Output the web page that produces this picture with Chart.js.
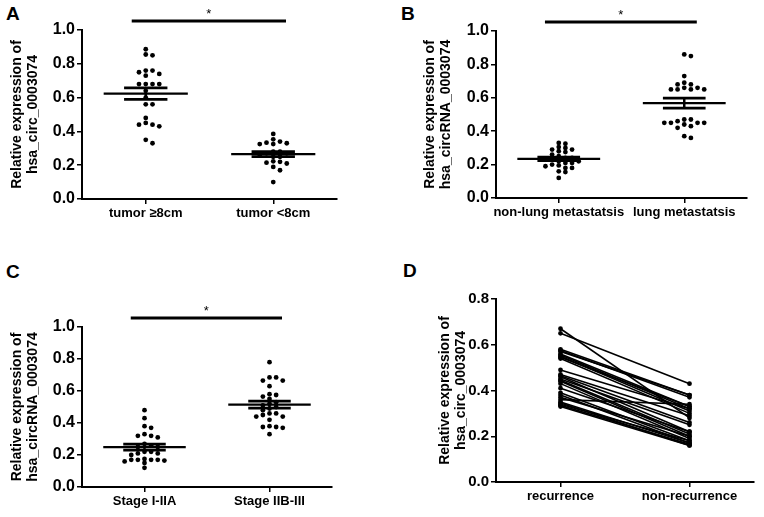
<!DOCTYPE html>
<html>
<head>
<meta charset="utf-8">
<script src="https://cdn.jsdelivr.net/npm/chart.js@4/dist/chart.umd.min.js"></script>
<style>
  body { margin: 0; background: #fff; }
  #fig { position: relative; width: 764px; height: 517px; overflow: hidden; }
  canvas { position: absolute; }
  .tag { position: absolute; font: bold 19px "Liberation Sans", Arial, sans-serif; color: #000; }
</style>
</head>
<body>
<div id="fig">
  <div class="tag" style="left:6px;top:3px">A</div>
  <div class="tag" style="left:401px;top:3px">B</div>
  <div class="tag" style="left:6px;top:261px">C</div>
  <div class="tag" style="left:403px;top:260px">D</div>
  <canvas id="chartA" width="382" height="258" style="left:0;top:0"></canvas>
  <canvas id="chartB" width="382" height="258" style="left:382px;top:0"></canvas>
  <canvas id="chartC" width="382" height="259" style="left:0;top:258px"></canvas>
  <canvas id="chartD" width="382" height="259" style="left:382px;top:258px"></canvas>
</div>
<script>
// panel A
const labelsA = ['tumor \u22658cm', 'tumor <8cm'];
const bigTumor = [0.886, 0.855, 0.85, 0.76, 0.75, 0.76, 0.74, 0.73, 0.68, 0.68, 0.68, 0.68, 0.64, 0.60, 0.56, 0.56, 0.48, 0.45, 0.44, 0.44, 0.43, 0.35, 0.33];
const smallTumor = [0.385, 0.353, 0.34, 0.333, 0.33, 0.325, 0.325, 0.28, 0.28, 0.27, 0.27, 0.26, 0.25, 0.25, 0.22, 0.215, 0.223, 0.21, 0.19, 0.17, 0.10];

// panel B
const labelsB = ['non-lung metastatsis', 'lung metastatsis'];
const nonLungMet = [0.33, 0.325, 0.305, 0.30, 0.29, 0.29, 0.28, 0.275, 0.26, 0.25, 0.24, 0.24, 0.23, 0.23, 0.22, 0.22, 0.21, 0.21, 0.20, 0.195, 0.19, 0.18, 0.18, 0.16, 0.155, 0.12];
const lungMet = [0.86, 0.85, 0.73, 0.69, 0.68, 0.68, 0.66, 0.66, 0.65, 0.65, 0.65, 0.65, 0.47, 0.47, 0.46, 0.45, 0.45, 0.45, 0.45, 0.44, 0.43, 0.42, 0.37, 0.36];

// panel C
const labelsC = ['Stage I-IIA', 'Stage IIB-III'];
const stageEarly = [0.48, 0.43, 0.38, 0.37, 0.33, 0.32, 0.32, 0.31, 0.27, 0.26, 0.25, 0.25, 0.22, 0.22, 0.21, 0.21, 0.20, 0.17, 0.175, 0.165, 0.17, 0.17, 0.17, 0.16, 0.15, 0.12];
const stageLate = [0.78, 0.685, 0.685, 0.665, 0.665, 0.63, 0.58, 0.575, 0.565, 0.55, 0.53, 0.52, 0.51, 0.50, 0.49, 0.48, 0.46, 0.46, 0.45, 0.44, 0.44, 0.42, 0.38, 0.375, 0.375, 0.37, 0.33];

// panel D (paired patients)
const labelsD = ['recurrence', 'non-recurrence'];
const recurrence    = [0.67, 0.65, 0.58, 0.575, 0.57, 0.56, 0.555, 0.55, 0.545, 0.54, 0.49, 0.47, 0.465, 0.46, 0.45, 0.445, 0.44, 0.43, 0.41, 0.39, 0.38, 0.37, 0.36, 0.35, 0.345, 0.34, 0.335, 0.33];
const nonRecurrence = [0.28, 0.43, 0.38, 0.37, 0.38, 0.33, 0.32, 0.31, 0.33, 0.30, 0.32, 0.29, 0.26, 0.22, 0.25, 0.21, 0.20, 0.19, 0.22, 0.18, 0.17, 0.20, 0.34, 0.17, 0.16, 0.18, 0.165, 0.16];

const yTitle1 = ['Relative expression of', 'hsa_circ_0003074'];
const yTitle2 = ['Relative expression of', 'hsa_circRNA_0003074'];

const FONT = '"Liberation Sans", Arial, sans-serif';

// simple dot-plot spreading: points with close values get pushed sideways
function swarm(values, center) {
  const step = 0.053, yTol = 0.024;
  const placed = [];
  return [...values].sort((a, b) => b - a).map(v => {
    for (let k = 0; k < 40; k++) {
      const off = k === 0 ? 0 : (k % 2 ? 1 : -1) * Math.ceil(k / 2) * step;
      const hit = placed.some(p => Math.abs(p.y - v) < yTol && Math.abs(p.off - off) < step * 0.9);
      if (!hit) { placed.push({ y: v, off }); return { x: center + off, y: v }; }
    }
  });
}

const statsPlugin = {
  id: 'stats',
  afterDatasetsDraw(chart, args, opts) {
    const { ctx, scales: { x, y }, chartArea } = chart;
    ctx.save();
    ctx.strokeStyle = '#000';
    ctx.fillStyle = '#000';
    (opts.groups || []).forEach((vals, i) => {
      const c = i + 1, n = vals.length;
      const mean = vals.reduce((a, b) => a + b, 0) / n;
      const sd = Math.sqrt(vals.reduce((a, b) => a + (b - mean) ** 2, 0) / (n - 1));
      const sem = sd / Math.sqrt(n);
      const line = (x0, y0, x1, y1, w) => {
        ctx.lineWidth = w; ctx.beginPath(); ctx.moveTo(x0, y0); ctx.lineTo(x1, y1); ctx.stroke();
      };
      const ym = y.getPixelForValue(mean);
      const yt = y.getPixelForValue(mean + sem);
      const yb = y.getPixelForValue(mean - sem);
      line(x.getPixelForValue(c - 0.33), ym, x.getPixelForValue(c + 0.33), ym, 2.2);
      line(x.getPixelForValue(c - 0.17), yt, x.getPixelForValue(c + 0.17), yt, 2.8);
      line(x.getPixelForValue(c - 0.17), yb, x.getPixelForValue(c + 0.17), yb, 2.8);
      line(x.getPixelForValue(c), yt, x.getPixelForValue(c), yb, 2.5);
    });
    if (opts.star) {
      const ys = chartArea.top - 9;
      const x0 = x.getPixelForValue(0.89), x1 = x.getPixelForValue(2.1);
      ctx.lineWidth = 3;
      ctx.beginPath(); ctx.moveTo(x0, ys); ctx.lineTo(x1, ys); ctx.stroke();
      ctx.font = '13px ' + FONT;
      ctx.textAlign = 'center';
      ctx.textBaseline = 'alphabetic';
      ctx.fillText('*', (x0 + x1) / 2, ys - 3);
    }
    ctx.restore();
  }
};
Chart.register(statsPlugin);

// canvas: [left, top, w, h] in page px, area: [left, top, right, bottom] in page px
function makePanel(id, canvasRect, area, titleX, labels, yMax, yTitle, datasets, stats, tickSize) {
  const [cl, ct, cw, ch] = canvasRect;
  const scaleLeft = titleX - 12;
  const axisW = area[0] - scaleLeft;
  const axisH = 30;
  return new Chart(document.getElementById(id), {
    type: 'scatter',
    data: { datasets },
    plugins: [],
    options: {
      responsive: false,
      animation: false,
      layout: {
        padding: {
          left: scaleLeft - cl,
          top: area[1] - ct,
          right: cl + cw - area[2],
          bottom: ct + ch - area[3] - axisH
        }
      },
      plugins: { legend: { display: false }, tooltip: { enabled: false }, stats },
      scales: {
        x: {
          type: 'linear', min: 0.5, max: 2.5,
          afterBuildTicks: (ax) => { ax.ticks = [{ value: 1 }, { value: 2 }]; },
          afterFit: (ax) => { ax.height = axisH; },
          ticks: {
            callback: (v) => labels[v - 1],
            color: '#000', padding: 2, maxRotation: 0, autoSkip: false,
            font: { family: FONT, size: 13, weight: 'bold' }
          },
          grid: { drawOnChartArea: false, drawTicks: true, tickLength: 5, color: '#000', lineWidth: 1.5 },
          border: { display: true, color: '#000', width: 2 }
        },
        y: {
          min: 0, max: yMax,
          afterFit: (ax) => { ax.width = axisW; },
          ticks: {
            stepSize: 0.2, color: '#000', padding: 2,
            callback: (v) => v.toFixed(1),
            font: { family: FONT, size: tickSize, weight: 'bold' }
          },
          grid: { drawOnChartArea: false, drawTicks: true, tickLength: 5, color: '#000', lineWidth: 1.5 },
          border: { display: true, color: '#000', width: 2 },
          title: {
            display: true, text: yTitle, color: '#000',
            padding: { top: 4, bottom: 4 },
            font: { family: FONT, size: 14, weight: 'bold', lineHeight: 1.15 }
          }
        }
      }
    }
  });
}

function dotSets(g1, g2) {
  return [g1, g2].map((vals, i) => ({
    data: swarm(vals, i + 1),
    backgroundColor: '#000', borderColor: '#000',
    pointRadius: 2.4, pointHoverRadius: 2.4, borderWidth: 0
  }));
}

makePanel('chartA', [0, 0, 382, 258], [82, 30, 337, 199], 17, labelsA, 1.0, yTitle1,
  dotSets(bigTumor, smallTumor), { groups: [bigTumor, smallTumor], star: true }, 16);

makePanel('chartB', [382, 0, 382, 258], [496, 31, 747, 198], 430, labelsB, 1.0, yTitle2,
  dotSets(nonLungMet, lungMet), { groups: [nonLungMet, lungMet], star: true }, 16);

makePanel('chartC', [0, 258, 382, 259], [82, 327, 332, 487], 17, labelsC, 1.0, yTitle2,
  dotSets(stageEarly, stageLate), { groups: [stageEarly, stageLate], star: true }, 16);

const pairSets = recurrence.map((r, i) => ({
  data: [{ x: 1, y: r }, { x: 2, y: nonRecurrence[i] }],
  showLine: true,
  borderColor: '#000', backgroundColor: '#000',
  borderWidth: 1.6, pointRadius: 1.6, pointHoverRadius: 1.6
}));
makePanel('chartD', [382, 258, 382, 259], [496, 299, 754, 482], 445, labelsD, 0.8, yTitle1,
  pairSets, { groups: [], star: false }, 15);
</script>
</body>
</html>
